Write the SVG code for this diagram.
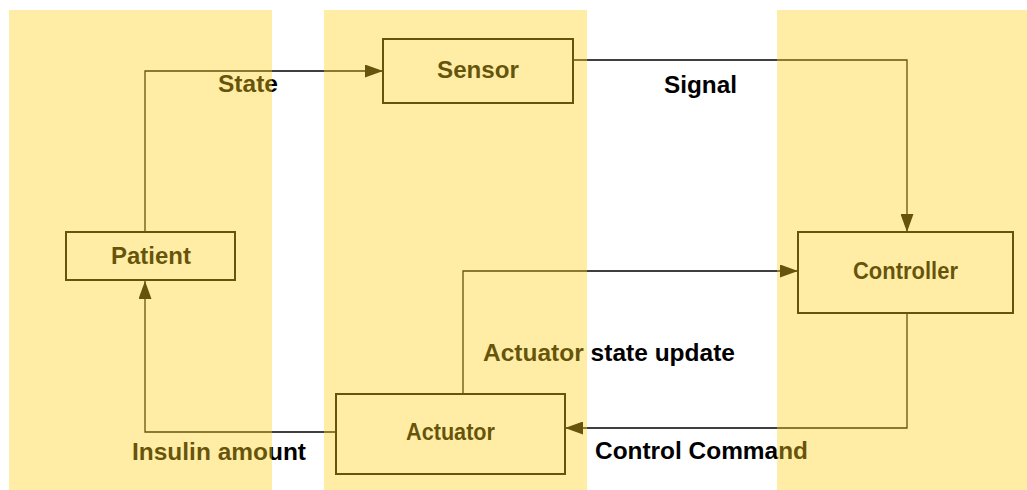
<svg xmlns="http://www.w3.org/2000/svg" width="1027" height="490" viewBox="0 0 1027 490">
<style>
.box{fill:#ffffff;stroke:#000000;stroke-width:2}
.conn{fill:none;stroke:#000000;stroke-width:1.3}
.t{font-family:"Liberation Sans",Arial,sans-serif;font-weight:bold;font-size:23px;fill:#000000}
.band{fill:#FFD220;fill-opacity:0.4}
</style>
<defs>
<marker id="arr" markerUnits="userSpaceOnUse" markerWidth="19" markerHeight="13" refX="18" refY="6.5" orient="auto">
<path d="M0,0 L18,6.5 L0,13 z" fill="#000000"/>
</marker>
</defs>
<rect width="1027" height="490" fill="#ffffff"/>
<g id="connectors">
<path class="conn" d="M145,232 V71 H383" marker-end="url(#arr)"/>
<path class="conn" d="M574,60 H907 V232" marker-end="url(#arr)"/>
<path class="conn" d="M463,394 V271 H798" marker-end="url(#arr)"/>
<path class="conn" d="M907,313 V428 H565" marker-end="url(#arr)"/>
<path class="conn" d="M336,432 H145 V281" marker-end="url(#arr)"/>
<text class="t" x="218" y="92" textLength="60" lengthAdjust="spacingAndGlyphs">State</text>
<text class="t" x="664" y="93" textLength="73" lengthAdjust="spacingAndGlyphs">Signal</text>
<text class="t" x="483" y="361" textLength="252" lengthAdjust="spacingAndGlyphs">Actuator state update</text>
<text class="t" x="595" y="459" textLength="213" lengthAdjust="spacingAndGlyphs">Control Command</text>
<text class="t" x="132" y="460" textLength="174" lengthAdjust="spacingAndGlyphs">Insulin amount</text>
</g>
<g id="sensor">
<rect class="box" x="383" y="39" width="190" height="64"/>
<text class="t" x="437" y="78" textLength="82" lengthAdjust="spacingAndGlyphs">Sensor</text>
</g>
<g id="patient">
<rect class="box" x="66" y="232" width="169" height="48"/>
<text class="t" x="111" y="263.5" textLength="80" lengthAdjust="spacingAndGlyphs">Patient</text>
</g>
<g id="controller">
<rect class="box" x="798" y="232" width="215" height="81"/>
<text class="t" x="853" y="279" textLength="105" lengthAdjust="spacingAndGlyphs">Controller</text>
</g>
<g id="actuator">
<rect class="box" x="336" y="394" width="229" height="80"/>
<text class="t" x="406" y="440" textLength="89" lengthAdjust="spacingAndGlyphs">Actuator</text>
</g>
<g id="lanes">
<rect class="band" x="9" y="10" width="263" height="480"/>
<rect class="band" x="324" y="10" width="263" height="480"/>
<rect class="band" x="777" y="10" width="250" height="480"/>
</g>
</svg>
